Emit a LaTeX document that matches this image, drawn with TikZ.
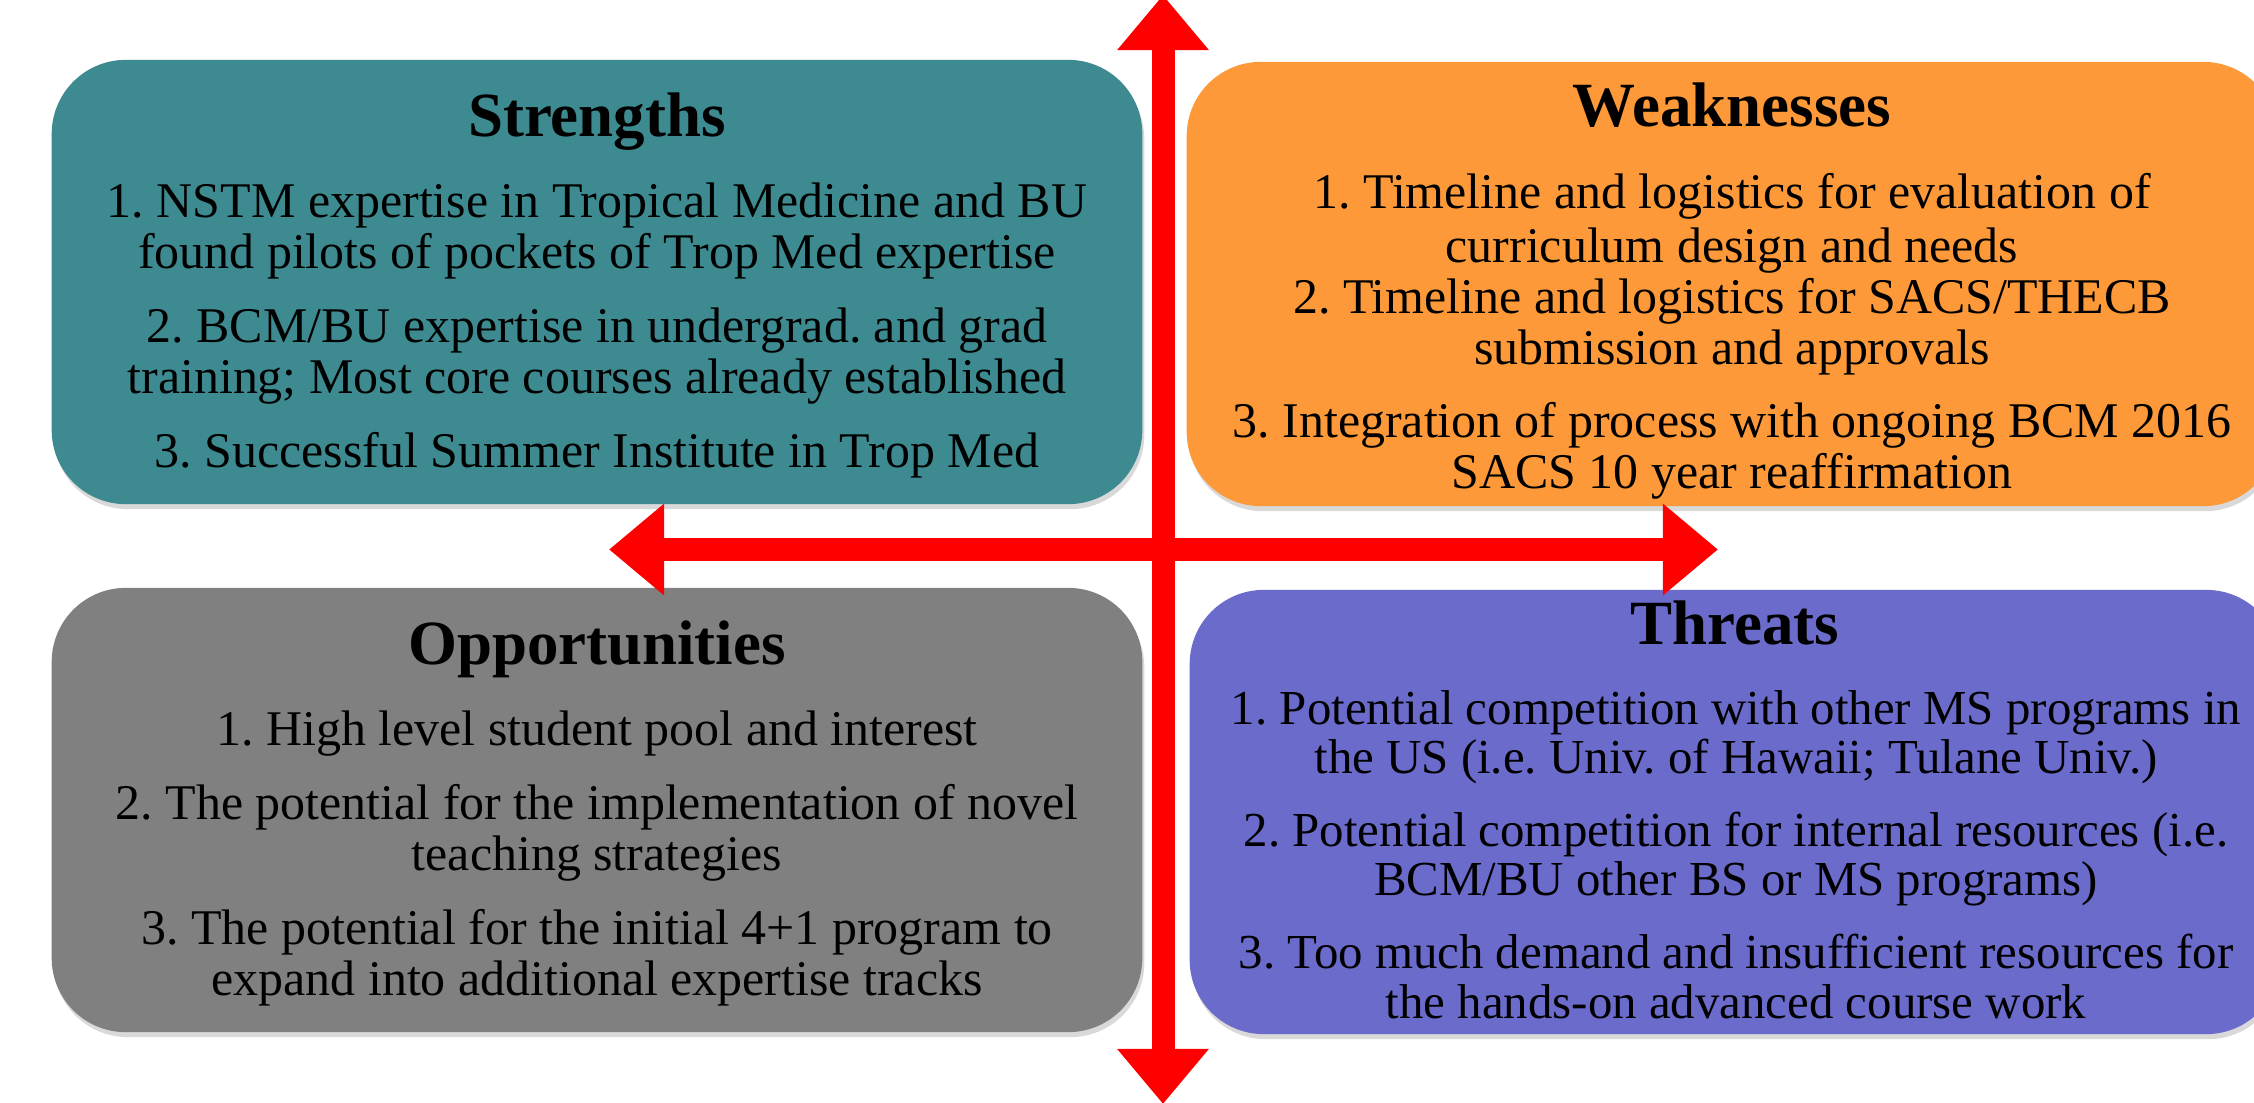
\documentclass[tikz,border=0pt]{standalone}
\usepackage{fontspec}
\setmainfont{Liberation Serif}
\usetikzlibrary{arrows.meta,shadows}
\frenchspacing

\definecolor{strteal}{RGB}{61,139,145}
\definecolor{weakorange}{RGB}{253,153,56}
\definecolor{oppgray}{RGB}{128,128,128}
\definecolor{thrpurple}{RGB}{107,107,204}

\tikzset{
  quadbox/.style={rounded corners=0.74cm, minimum width=10.9cm, minimum height=4.44cm,
    inner sep=0pt, drop shadow={opacity=0.3,shadow xshift=0.02cm,shadow yshift=-0.05cm}},
  boxtitle/.style={anchor=base, inner sep=0pt, font=\fontsize{17.9pt}{20pt}\selectfont\bfseries},
  boxtext/.style={anchor=base, inner sep=0pt, align=center, font=\fontsize{14.2pt}{14.5pt}\selectfont},
  swotarrow/.style={draw=red, line width=0.23cm,
    {Triangle[width=0.88cm,length=0.55cm]}-{Triangle[width=0.88cm,length=0.55cm]}}
}

\begin{document}
\begin{tikzpicture}[x=0.01cm,y=-0.01cm]
  \useasboundingbox (0,0) rectangle (2254,1103);
  \clip (0,0) rectangle (2254,1103);

  % Drawing the four boxes
  \node[quadbox, fill=strteal] (strbox) at (597,282) {};
  \node[quadbox, fill=weakorange] (weakbox) at (1732,284) {};
  \node[quadbox, fill=oppgray] (oppbox) at (597,810) {};
  \node[quadbox, fill=thrpurple] (thrbox) at (1735,812) {};

  % Marking the titles
  \node[boxtitle] (strtitle) at (597,136) {Strengths};
  \node[boxtitle] (weaktitle) at (1732,126) {Weaknesses};
  \node[boxtitle] (opptitle) at (597,664) {Opportunities};
  \node[boxtitle] (thrtitle) at (1735,644) {Threats};

  % Marking the items of Strengths (anchored on the last line)
  \node[boxtext] (strtext) at (597,467) {1. NSTM expertise in Tropical Medicine and BU\\
    found pilots of pockets of Trop Med expertise\\[6.5pt]
    2. BCM/BU expertise in undergrad. and grad\\
    training; Most core courses already established\\[6.5pt]
    3. Successful Summer Institute in Trop Med};

  % Marking the items of Weaknesses
  \node[boxtext] (weaktext) at (1732,488) {1. Timeline and logistics for evaluation of\\[1.1pt]
    curriculum design and needs\\
    2. Timeline and logistics for SACS/THECB\\
    submission and approvals\\[6pt]
    3. Integration of process with ongoing BCM 2016\\
    SACS 10 year reaffirmation};

  % Marking the items of Opportunities
  \node[boxtext] (opptext) at (597,995) {1. High level student pool and interest\\[6.5pt]
    2. The potential for the implementation of novel\\
    teaching strategies\\[6.5pt]
    3. The potential for the initial 4+1 program to\\
    expand into additional expertise tracks};

  % Marking the items of Threats (a little smaller)
  \node[boxtext, font=\fontsize{13.9pt}{14.2pt}\selectfont] (thrtext) at (1736,1018)
    {1. Potential competition with other MS programs in\\
    the US (i.e. Univ. of Hawaii; Tulane Univ.)\\[6.3pt]
    2. Potential competition for internal resources (i.e.\\
    BCM/BU other BS or MS programs)\\[6.3pt]
    3. Too much demand and insufficient resources for\\
    the hands-on advanced course work};

  % Drawing the axes
  \coordinate (axisW) at (609,549.5);
  \coordinate (axisE) at (1718,549.5);
  \coordinate (axisN) at (1163,-5);
  \coordinate (axisS) at (1163,1104);
  \draw[swotarrow] (axisW) -- (axisE);
  \draw[swotarrow] (axisN) -- (axisS);
\end{tikzpicture}
\end{document}
